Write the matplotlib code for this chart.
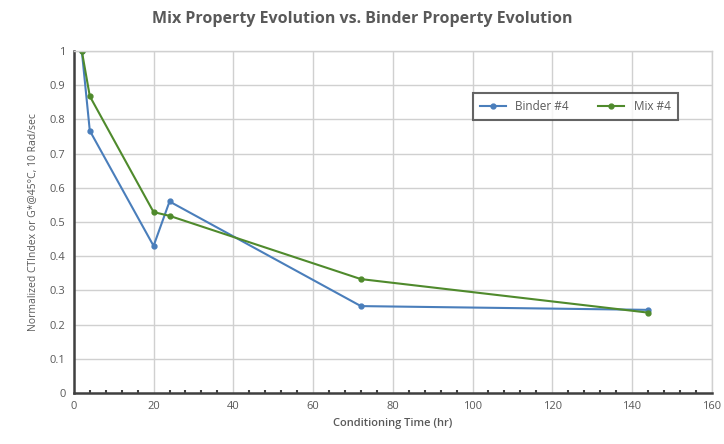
import matplotlib.pyplot as plt
from matplotlib.ticker import MultipleLocator

hours = [2, 4, 20, 24, 72, 144]
binder4 = [1.0, 0.767, 0.43, 0.56, 0.254, 0.243]
mix4 = [1.0, 0.868, 0.529, 0.518, 0.333, 0.235]

plt.rcParams['font.family'] = ['Open Sans', 'DejaVu Sans']
txt = '#595959'

fig = plt.figure(figsize=(7.24, 4.44), dpi=100)
ax = fig.add_axes([0.102, 0.115, 0.881, 0.77])

ax.plot(hours, binder4, color='#4a7ebb', lw=1.5, marker='o', ms=3.5, label='Binder #4')
ax.plot(hours, mix4, color='#4f8a2c', lw=1.5, marker='o', ms=3.5, label='Mix #4')

ax.set_xlim(0, 160)
ax.set_ylim(0, 1)
ax.xaxis.set_major_locator(MultipleLocator(20))
ax.xaxis.set_minor_locator(MultipleLocator(4))
ax.set_yticks([i / 10 for i in range(11)])
ax.set_yticklabels(['0', '0.1', '0.2', '0.3', '0.4', '0.5', '0.6', '0.7', '0.8', '0.9', '1'])
ax.grid(True, which='major', color='#d0d0d0', lw=1)
ax.set_axisbelow(True)

ax.tick_params(axis='both', which='major', length=0, labelsize=8, colors=txt, pad=6)
ax.tick_params(axis='x', which='minor', direction='in', length=2.5, width=1.5, color='#404040')
ax.tick_params(axis='y', which='minor', length=0)

for s in ['left', 'bottom']:
    ax.spines[s].set_color('#404040')
    ax.spines[s].set_linewidth(1.8)
for s in ['top', 'right']:
    ax.spines[s].set_color('#d0d0d0')
    ax.spines[s].set_linewidth(1)

ax.set_xlabel('Conditioning Time (hr)', fontsize=8, color=txt, labelpad=4, fontweight='semibold')
ax.set_ylabel('Normalized CTIndex or G*@45°C, 10 Rad/sec', fontsize=7.5, color=txt, labelpad=8)
fig.suptitle('Mix Property Evolution vs. Binder Property Evolution', fontsize=11.5,
             fontweight='bold', color=txt, y=0.975)

leg = ax.legend(loc='upper left', bbox_to_anchor=(0.625, 0.878), ncol=2, fontsize=8.5,
                frameon=True, fancybox=False, handlelength=2.2, columnspacing=2.5,
                borderpad=0.6, borderaxespad=0)
leg.get_frame().set_edgecolor('#404040')
leg.get_frame().set_linewidth(1.5)
for t in leg.get_texts():
    t.set_color(txt)

fig.savefig('out.png', dpi=100)
